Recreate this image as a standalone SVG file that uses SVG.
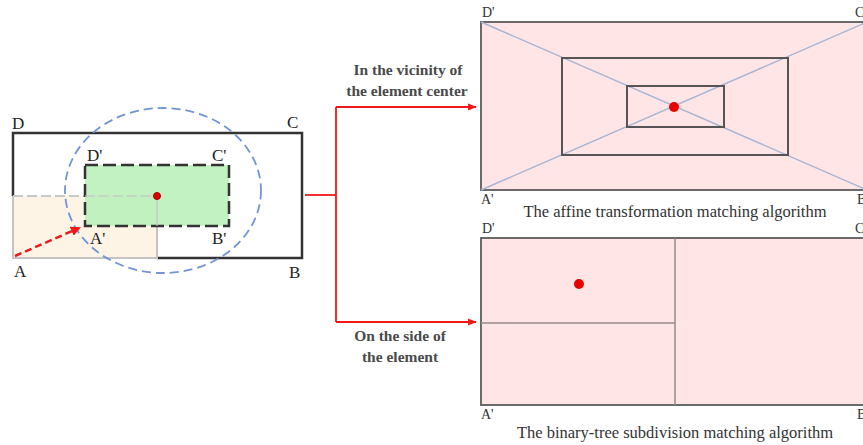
<svg xmlns="http://www.w3.org/2000/svg" width="863" height="445" viewBox="0 0 863 445">
<defs>
<style>
.lbl{font-family:"Liberation Serif","Times New Roman",serif;fill:#222;font-size:17px}
.plbl{font-family:"Liberation Serif","Times New Roman",serif;fill:#333;font-size:14px}
.cap{font-family:"Liberation Serif","Times New Roman",serif;fill:#333;font-size:16.5px;text-anchor:middle}
.note{font-family:"Liberation Serif","Times New Roman",serif;fill:#4a4a4a;font-size:15.5px;font-weight:bold;text-anchor:middle}
.frame{fill:#FFE5E5;stroke:#6a6a6a;stroke-width:2}
.inner{fill:none;stroke:#555;stroke-width:2}
.diag{stroke:#A9B6D6;stroke-width:1.5}
.red{stroke:#F01818;stroke-width:1.8;fill:none}
</style>
<marker id="ah" viewBox="0 0 10 10" refX="9" refY="5" markerWidth="5" markerHeight="5" orient="auto" markerUnits="strokeWidth">
<path d="M0,1 L10,5 L0,9 z" fill="#F01818"/>
</marker>
<marker id="ah2" viewBox="0 0 10 10" refX="8" refY="5" markerWidth="4" markerHeight="4" orient="auto" markerUnits="strokeWidth">
<path d="M0,0 L10,5 L0,10 z" fill="#F01818"/>
</marker>
</defs>
<rect width="863" height="445" fill="#fff"/>

<g id="element">
<rect x="13" y="196" width="144" height="62" fill="#FDF4E6"/>
<path d="M13,196 V133 H302 V258 H157" fill="none" stroke="#333" stroke-width="2.5"/>
<path d="M13,196 V258 H157 V196" fill="none" stroke="#C4C4C4" stroke-width="2"/>
<line x1="13" y1="196" x2="157" y2="196" stroke="#C8C8C8" stroke-width="2" stroke-dasharray="10,4"/>
<rect x="85" y="165" width="144" height="61" fill="#BDF0BD" fill-opacity="0.92" stroke="#333" stroke-width="2.5" stroke-dasharray="13,5"/>
<line x1="85" y1="196" x2="157" y2="196" stroke="#C8C8C8" stroke-width="1.5" stroke-dasharray="10,4" opacity="0.8"/>
<line x1="157" y1="196" x2="157" y2="226" stroke="#C4C4C4" stroke-width="1.5" opacity="0.8"/>
<ellipse cx="163" cy="190.5" rx="98" ry="82.5" fill="none" stroke="#7095D6" stroke-width="1.8" stroke-dasharray="9,5"/>
<circle cx="157" cy="196" r="3.5" fill="#E00000" stroke="#A00000" stroke-width="1"/>
<line x1="15" y1="256" x2="79" y2="228" stroke="#F01818" stroke-width="2.5" stroke-dasharray="7,4" marker-end="url(#ah2)"/>
<text class="lbl" x="12" y="129">D</text>
<text class="lbl" x="287" y="128">C</text>
<text class="lbl" x="14" y="277">A</text>
<text class="lbl" x="289" y="278">B</text>
<text class="lbl" x="87" y="161">D'</text>
<text class="lbl" x="212" y="161">C'</text>
<text class="lbl" x="90" y="244">A'</text>
<text class="lbl" x="212" y="244">B'</text>
</g>

<g id="connectors">
<path class="red" d="M305,195 H336"/>
<path class="red" d="M336,107 V322"/>
<path class="red" d="M336,107 H476" marker-end="url(#ah)"/>
<path class="red" d="M336,322 H476" marker-end="url(#ah)"/>
<text class="note" x="408" y="75">In the vicinity of</text>
<text class="note" x="407" y="96">the element center</text>
<text class="note" x="400" y="341">On the side of</text>
<text class="note" x="400" y="362">the element</text>
</g>

<g id="affine">
<rect class="frame" x="481" y="22" width="386" height="168"/>
<line class="diag" x1="481" y1="22" x2="867" y2="190"/>
<line class="diag" x1="481" y1="190" x2="867" y2="22"/>
<rect class="inner" x="562" y="58" width="226" height="97"/>
<rect class="inner" x="627" y="86" width="97" height="41"/>
<circle cx="674" cy="107" r="5" fill="#E80000"/>
<text class="plbl" x="482" y="17">D'</text>
<text class="plbl" x="855" y="17">C'</text>
<text class="plbl" x="481" y="204">A'</text>
<text class="plbl" x="857" y="204">B'</text>
<text class="cap" x="675" y="217">The affine transformation matching algorithm</text>
</g>

<g id="binary">
<rect class="frame" x="481" y="238" width="386" height="167"/>
<line x1="675" y1="238" x2="675" y2="405" stroke="#9a8a8a" stroke-width="1.5"/>
<line x1="481" y1="323" x2="675" y2="323" stroke="#9a8a8a" stroke-width="1.5"/>
<circle cx="579" cy="284" r="5" fill="#E80000"/>
<text class="plbl" x="482" y="233">D'</text>
<text class="plbl" x="855" y="233">C'</text>
<text class="plbl" x="481" y="419">A'</text>
<text class="plbl" x="857" y="419">B'</text>
<text class="cap" x="675" y="438">The binary-tree subdivision matching algorithm</text>
</g>
</svg>
